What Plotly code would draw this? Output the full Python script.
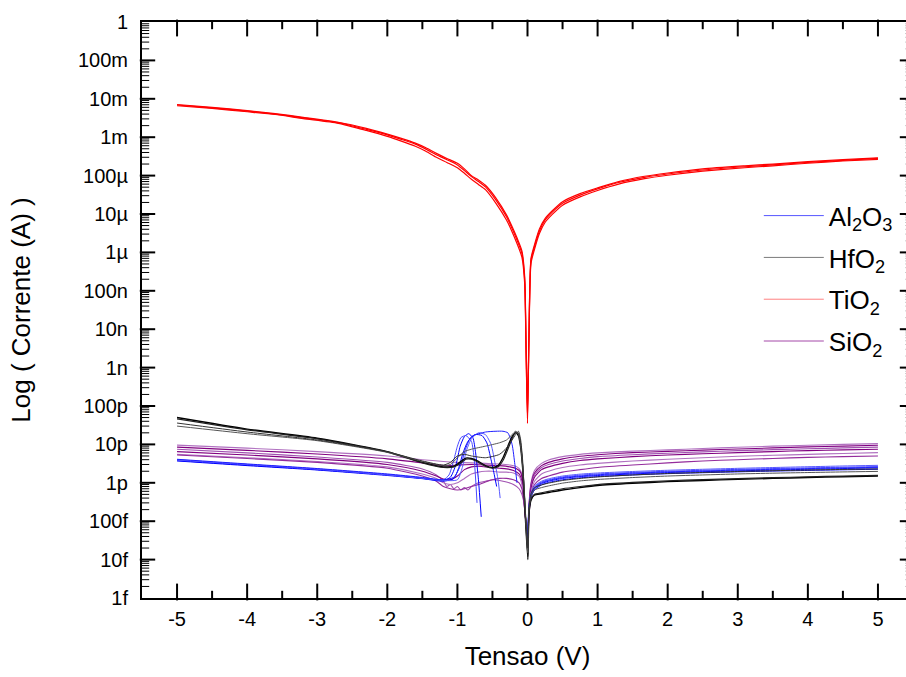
import plotly.graph_objects as go

# ---------------- data ----------------
# TiO2 (red) – three sweeps
V_TIO2 = [-5.0, -4.5, -4.0, -3.6, -3.2, -2.7, -2.3, -2.0, -1.8, -1.6, -1.45, -1.3, -1.15, -1.0, -0.9, -0.8,
          -0.7, -0.6, -0.45, -0.3, -0.23, -0.15, -0.08, -0.04, -0.02, 0.0, 0.02, 0.05, 0.1, 0.17, 0.25,
          0.35, 0.5, 0.75, 1.0, 1.3, 1.67, 2.0, 2.5, 3.1, 3.5, 4.0, 4.5, 5.0]
I_TIO2_1 = [6.9e-3, 5.8e-3, 4.8e-3, 4.0e-3, 3.2e-3, 2.4e-3, 1.6e-3, 1.15e-3, 8.8e-4, 6.6e-4, 4.9e-4, 3.5e-4,
            2.6e-4, 1.9e-4, 1.35e-4, 9.4e-5, 7.0e-5, 5.1e-5, 2.3e-5, 8.5e-6, 4.6e-6, 2.1e-6, 9.5e-7, 1.9e-7,
            3e-9, 3.5e-11, 5e-9, 6.3e-7, 1.4e-6, 3.6e-6, 6.9e-6, 1.1e-5, 1.9e-5, 3.1e-5, 4.5e-5, 6.6e-5,
            9.0e-5, 1.1e-4, 1.4e-4, 1.7e-4, 1.9e-4, 2.2e-4, 2.5e-4, 2.8e-4]
I_TIO2_2 = [6.6e-3, 5.6e-3, 4.6e-3, 3.9e-3, 3.05e-3, 2.3e-3, 1.5e-3, 1.05e-3, 7.9e-4, 5.8e-4, 4.3e-4, 3.0e-4,
            2.2e-4, 1.6e-4, 1.15e-4, 8.0e-5, 5.9e-5, 4.3e-5, 1.9e-5, 7.0e-6, 3.8e-6, 1.7e-6, 7.5e-7, 1.5e-7,
            2e-9, 5e-11, 4e-9, 5.2e-7, 1.2e-6, 3.1e-6, 6.0e-6, 9.6e-6, 1.7e-5, 2.8e-5, 4.1e-5, 6.0e-5,
            8.3e-5, 1.02e-4, 1.3e-4, 1.6e-4, 1.8e-4, 2.1e-4, 2.4e-4, 2.65e-4]
I_TIO2_3 = [7.1e-3, 6.0e-3, 4.9e-3, 4.1e-3, 3.3e-3, 2.45e-3, 1.7e-3, 1.2e-3, 9.3e-4, 7.0e-4, 5.3e-4, 3.8e-4,
            2.8e-4, 2.1e-4, 1.5e-4, 1.0e-4, 7.7e-5, 5.6e-5, 2.6e-5, 9.5e-6, 5.2e-6, 2.4e-6, 1.1e-6, 2.3e-7,
            4e-9, 8e-11, 6e-9, 7.0e-7, 1.6e-6, 4.1e-6, 7.6e-6, 1.2e-5, 2.1e-5, 3.4e-5, 4.8e-5, 7.0e-5,
            9.6e-5, 1.17e-4, 1.5e-4, 1.8e-4, 2.0e-4, 2.3e-4, 2.6e-4, 2.9e-4]

# common positive-bias voltages for the low-current oxides
V_RIGHT = [0.005, 0.02, 0.05, 0.1, 0.2, 0.3, 0.5, 0.75, 1.0, 1.5, 2.0, 2.5, 3.0, 3.5, 4.0, 4.5, 5.0]

# Al2O3 (blue) – negative branches (with breakdown humps) and positive branches
V_AL_1 = [-5, -4, -3, -2, -1.5, -1.2, -1.1, -1.02, -0.96, -0.9, -0.84, -0.78, -0.74, -0.7, -0.66]
I_AL_1 = [3.8e-12, 2.9e-12, 2.2e-12, 1.6e-12, 1.3e-12, 1.15e-12, 1.4e-12, 3e-12, 9e-12, 16e-12, 19e-12,
          15e-12, 6e-12, 1.2e-12, 1.3e-13]
V_AL_2 = [-5, -4, -3, -2, -1.5, -1.2, -1.12, -1.05, -1.0, -0.95, -0.88, -0.8, -0.76, -0.72]
I_AL_2 = [4.0e-12, 3.0e-12, 2.3e-12, 1.65e-12, 1.35e-12, 1.2e-12, 1.6e-12, 4e-12, 9e-12, 15e-12, 17e-12,
          12e-12, 4e-12, 3e-13]
V_AL_3 = [-5, -4, -3, -2, -1.5, -1.2, -1.05, -0.98, -0.92, -0.85, -0.75, -0.65, -0.58, -0.52, -0.47, -0.44]
I_AL_3 = [3.7e-12, 2.8e-12, 2.15e-12, 1.55e-12, 1.28e-12, 1.1e-12, 1.3e-12, 2.5e-12, 6e-12, 12e-12, 18e-12,
          17e-12, 11e-12, 4e-12, 1.5e-12, 8e-13]
V_AL_4 = [-5, -4, -3, -2, -1.5, -1.2, -1.0, -0.93, -0.87, -0.8, -0.7, -0.6, -0.52, -0.46, -0.42, -0.39]
I_AL_4 = [3.9e-12, 3.0e-12, 2.25e-12, 1.6e-12, 1.3e-12, 1.15e-12, 1.2e-12, 2.5e-12, 7e-12, 14e-12, 20e-12,
          18e-12, 10e-12, 3e-12, 1.2e-12, 4e-13]
V_AL_5 = [-5, -4, -3, -2, -1.5, -1.2, -1.05, -0.95, -0.88, -0.8, -0.6, -0.45, -0.35, -0.28, -0.22, -0.18, -0.15]
I_AL_5 = [4.1e-12, 3.1e-12, 2.35e-12, 1.7e-12, 1.38e-12, 1.2e-12, 1.4e-12, 3e-12, 8e-12, 16e-12, 21e-12,
          22e-12, 22e-12, 20e-12, 10e-12, 3e-12, 1.0e-12]
I_AL_R1 = [3e-14, 2e-13, 4.5e-13, 7e-13, 9.5e-13, 1.1e-12, 1.3e-12, 1.45e-12, 1.55e-12, 1.7e-12, 1.85e-12,
           1.95e-12, 2.05e-12, 2.15e-12, 2.25e-12, 2.35e-12, 2.45e-12]
I_AL_R2 = [4e-14, 2.3e-13, 5e-13, 7.8e-13, 1.05e-12, 1.2e-12, 1.42e-12, 1.58e-12, 1.7e-12, 1.86e-12, 2.0e-12,
           2.12e-12, 2.24e-12, 2.35e-12, 2.45e-12, 2.55e-12, 2.65e-12]
I_AL_R3 = [3e-14, 1.8e-13, 4.2e-13, 6.5e-13, 8.8e-13, 1.02e-12, 1.2e-12, 1.35e-12, 1.45e-12, 1.6e-12, 1.73e-12,
           1.83e-12, 1.93e-12, 2.02e-12, 2.1e-12, 2.18e-12, 2.25e-12]
I_AL_R4 = [5e-14, 2.5e-13, 5.4e-13, 8.3e-13, 1.1e-12, 1.27e-12, 1.5e-12, 1.68e-12, 1.8e-12, 1.97e-12, 2.12e-12,
           2.25e-12, 2.38e-12, 2.5e-12, 2.62e-12, 2.74e-12, 2.85e-12]
I_AL_R5 = [3e-14, 2.1e-13, 4.8e-13, 7.3e-13, 1.0e-12, 1.15e-12, 1.36e-12, 1.5e-12, 1.62e-12, 1.78e-12, 1.92e-12,
           2.03e-12, 2.14e-12, 2.24e-12, 2.34e-12, 2.44e-12, 2.53e-12]

# HfO2 (black) – negative and positive branches
V_HF_1 = [-5, -4, -3, -2, -1.5, -1.2, -1.05, -0.95, -0.88, -0.8, -0.7, -0.6, -0.5, -0.42, -0.35, -0.28,
          -0.22, -0.17, -0.13, -0.1, -0.07, -0.05]
I_HF_1 = [5e-11, 2.5e-11, 1.45e-11, 6.5e-12, 3.4e-12, 2.6e-12, 2.7e-12, 3.6e-12, 4.4e-12, 4.3e-12, 3.6e-12,
          2.8e-12, 2.5e-12, 2.8e-12, 4.5e-12, 9e-12, 16e-12, 20e-12, 17e-12, 9e-12, 2.5e-12, 6e-13]
I_HF_2 = [4.6e-11, 2.4e-11, 1.4e-11, 6.3e-12, 3.3e-12, 2.5e-12, 2.6e-12, 3.3e-12, 4.1e-12, 4.1e-12, 3.4e-12,
          2.7e-12, 2.4e-12, 2.6e-12, 3.8e-12, 7.5e-12, 14e-12, 21e-12, 19e-12, 11e-12, 3e-12, 7e-13]
V_HF_3 = [-5, -4, -3, -2, -1.5, -1.2, -1.1, -1.0, -0.9, -0.8, -0.6, -0.4, -0.3, -0.22, -0.17, -0.13, -0.1,
          -0.07, -0.05]
I_HF_3 = [3.0e-11, 1.9e-11, 1.25e-11, 6.2e-12, 3.6e-12, 2.8e-12, 3.0e-12, 4.5e-12, 6.5e-12, 7.5e-12, 9e-12,
          11e-12, 13e-12, 18e-12, 22e-12, 19e-12, 10e-12, 3e-12, 9e-13]
I_HF_4 = [3.6e-11, 2.1e-11, 1.3e-11, 6.4e-12, 3.7e-12, 2.9e-12, 3.4e-12, 5.0e-12, 5.5e-12, 5.0e-12, 4.5e-12,
          5.5e-12, 8e-12, 13e-12, 18e-12, 22e-12, 14e-12, 4e-12, 8e-13]
I_HF_R1 = [1e-14, 1.5e-13, 3.5e-13, 4.8e-13, 5.2e-13, 5.6e-13, 6.5e-13, 7.5e-13, 8.5e-13, 9.7e-13, 1.07e-12,
           1.15e-12, 1.23e-12, 1.3e-12, 1.37e-12, 1.44e-12, 1.5e-12]
I_HF_R2 = [1.2e-14, 1.6e-13, 3.7e-13, 5.0e-13, 5.5e-13, 6.0e-13, 7.0e-13, 8.0e-13, 9.0e-13, 1.02e-12, 1.13e-12,
           1.21e-12, 1.29e-12, 1.36e-12, 1.43e-12, 1.5e-12, 1.56e-12]
I_HF_R3 = [1.5e-14, 2.0e-13, 4.5e-13, 6.5e-13, 7.5e-13, 8.3e-13, 9.8e-13, 1.12e-12, 1.22e-12, 1.37e-12, 1.5e-12,
           1.6e-12, 1.7e-12, 1.78e-12, 1.85e-12, 1.92e-12, 1.98e-12]
I_HF_R4 = [2e-14, 2.2e-13, 5.2e-13, 7.5e-13, 8.8e-13, 9.8e-13, 1.15e-12, 1.3e-12, 1.42e-12, 1.6e-12, 1.75e-12,
           1.86e-12, 1.97e-12, 2.06e-12, 2.15e-12, 2.23e-12, 2.3e-12]

# SiO2 (purple) – negative and positive branches
V_SI_A = [-5, -4, -3, -2, -1.5, -1.2, -1.0, -0.8, -0.6, -0.4, -0.25, -0.15, -0.1, -0.07, -0.05]
I_SI_1 = [9.6e-12, 8.0e-12, 6.5e-12, 5.0e-12, 4.0e-12, 3.6e-12, 3.4e-12, 3.3e-12, 3.2e-12, 3.1e-12, 2.9e-12,
          2.6e-12, 2.1e-12, 1.3e-12, 4e-13]
I_SI_2 = [8.5e-12, 7.0e-12, 5.6e-12, 4.2e-12, 3.3e-12, 2.8e-12, 2.9e-12, 3.0e-12, 2.9e-12, 2.8e-12, 2.6e-12,
          2.3e-12, 1.9e-12, 1.1e-12, 3.5e-13]
V_SI_B = [-5, -4, -3, -2, -1.5, -1.3, -1.2, -1.15, -1.1, -1.05, -1.0, -0.95, -0.9, -0.85, -0.8, -0.7, -0.6,
          -0.5, -0.4, -0.3, -0.2, -0.12, -0.08, -0.05]
I_SI_3 = [7.5e-12, 6.0e-12, 4.7e-12, 3.4e-12, 2.3e-12, 1.6e-12, 1.1e-12, 8e-13, 9e-13, 7e-13, 8e-13, 6.5e-13,
          7.5e-13, 6.5e-13, 8e-13, 1.0e-12, 1.1e-12, 1.2e-12, 1.15e-12, 1.05e-12, 9e-13, 7e-13, 5e-13, 3e-13]
V_SI_C = [-5, -4, -3, -2, -1.5, -1.3, -1.2, -1.1, -1.0, -0.9, -0.8, -0.7, -0.6, -0.5, -0.4, -0.3, -0.2,
          -0.12, -0.08, -0.05]
I_SI_4 = [6.5e-12, 5.3e-12, 4.2e-12, 3.0e-12, 2.0e-12, 1.5e-12, 1.25e-12, 1.2e-12, 1.5e-12, 2.2e-12, 2.6e-12,
          2.7e-12, 2.6e-12, 2.5e-12, 2.4e-12, 2.3e-12, 2.1e-12, 1.7e-12, 1.1e-12, 3.5e-13]
I_SI_5 = [5.5e-12, 4.5e-12, 3.6e-12, 2.6e-12, 1.7e-12, 1.3e-12, 1.0e-12, 9e-13, 1.0e-12, 1.3e-12, 1.7e-12,
          1.9e-12, 2.0e-12, 2.0e-12, 1.9e-12, 1.9e-12, 1.8e-12, 1.5e-12, 9e-13, 3e-13]
I_SI_6 = [5.3e-12, 4.3e-12, 3.4e-12, 2.4e-12, 1.5e-12, 1.1e-12, 8e-13, 7e-13, 6.5e-13, 7e-13, 8e-13, 9e-13,
          1.05e-12, 1.2e-12, 1.3e-12, 1.3e-12, 1.2e-12, 1.0e-12, 7e-13, 3e-13]
I_SI_R1 = [3e-14, 2.5e-13, 1.0e-12, 2.1e-12, 3.2e-12, 3.9e-12, 4.8e-12, 5.5e-12, 6.0e-12, 6.7e-12, 7.2e-12,
           7.8e-12, 8.4e-12, 9.0e-12, 9.5e-12, 10e-12, 10.5e-12]
I_SI_R2 = [3e-14, 2.2e-13, 9e-13, 1.8e-12, 2.8e-12, 3.4e-12, 4.2e-12, 4.9e-12, 5.4e-12, 6.1e-12, 6.6e-12,
           7.1e-12, 7.6e-12, 8.1e-12, 8.6e-12, 9.0e-12, 9.5e-12]
I_SI_R3 = [3e-14, 2e-13, 8e-13, 1.6e-12, 2.5e-12, 3.0e-12, 3.7e-12, 4.3e-12, 4.8e-12, 5.4e-12, 5.9e-12,
           6.4e-12, 6.9e-12, 7.3e-12, 7.7e-12, 8.1e-12, 8.5e-12]
I_SI_R4 = [3e-14, 1.8e-13, 7e-13, 1.4e-12, 2.2e-12, 2.6e-12, 3.2e-12, 3.8e-12, 4.2e-12, 4.8e-12, 5.3e-12,
           5.7e-12, 6.1e-12, 6.5e-12, 6.9e-12, 7.2e-12, 7.5e-12]
I_SI_R5 = [3e-14, 1.5e-13, 5.5e-13, 1.1e-12, 1.7e-12, 2.0e-12, 2.5e-12, 2.9e-12, 3.2e-12, 3.7e-12, 4.1e-12,
           4.5e-12, 4.9e-12, 5.2e-12, 5.5e-12, 5.8e-12, 6.1e-12]
I_SI_R6 = [3e-14, 1.3e-13, 4.5e-13, 9e-13, 1.3e-12, 1.5e-12, 1.9e-12, 2.2e-12, 2.5e-12, 2.9e-12, 3.3e-12,
           3.7e-12, 4.0e-12, 4.3e-12, 4.6e-12, 4.8e-12, 5.0e-12]

# axes
X_RANGE = [-5.5, 5.5]
Y_RANGE_LOG = [-15, 0]
X_TICK_VALS = [-5, -4, -3, -2, -1, 0, 1, 2, 3, 4, 5]
X_TICK_TEXT = ["-5", "-4", "-3", "-2", "-1", "0", "1", "2", "3", "4", "5"]
X_MINOR_VALS = [-4.5, -3.5, -2.5, -1.5, -0.5, 0.5, 1.5, 2.5, 3.5, 4.5]
Y_TICK_VALS = [1e-15, 1e-14, 1e-13, 1e-12, 1e-11, 1e-10, 1e-9, 1e-8, 1e-7, 1e-6, 1e-5, 1e-4, 1e-3, 1e-2, 1e-1, 1]
Y_TICK_TEXT = ["1f", "10f", "100f", "1p", "10p", "100p", "1n", "10n", "100n", "1µ", "10µ", "100µ",
               "1m", "10m", "100m", "1"]
Y_MINOR_DIGITS = [2, 3, 4, 5, 6, 7, 8, 9]
Y_MINOR_VALS = [d * dec for dec in Y_TICK_VALS[:-1] for d in Y_MINOR_DIGITS]

LEGEND_NAMES = ["Al<sub>2</sub>O<sub>3</sub>", "HfO<sub>2</sub>", "TiO<sub>2</sub>", "SiO<sub>2</sub>"]
LEGEND_COLORS = ["#5555ff", "#7a7a7a", "#ff8080", "#a448a8"]

# ---------------- layout geometry ----------------
FIG_W, FIG_H = 918, 677
M_L, M_R, M_T, M_B = 142, 3, 22, 79
PX_PER_V = (FIG_W - M_L - M_R) / (X_RANGE[1] - X_RANGE[0])
PX_PER_DEC = (FIG_H - M_T - M_B) / (Y_RANGE_LOG[1] - Y_RANGE_LOG[0])

# ---------------- figure ----------------
fig = go.Figure()


def add(x, y, color, width=1.0):
    fig.add_trace(go.Scatter(x=x, y=y, mode="lines",
                             line=dict(color=color, width=width, shape="spline", smoothing=0.6),
                             showlegend=False, hoverinfo="skip"))


# SiO2
si_sets = [
    (V_SI_A, I_SI_1, I_SI_R1, "#b070c0"),
    (V_SI_A, I_SI_2, I_SI_R2, "#800080"),
    (V_SI_B, I_SI_3, I_SI_R3, "#a050b0"),
    (V_SI_C, I_SI_4, I_SI_R4, "#800080"),
    (V_SI_C, I_SI_5, I_SI_R5, "#b070c0"),
    (V_SI_C, I_SI_6, I_SI_R6, "#942c9c"),
]
for vl, il, ir, c in si_sets:
    add(vl + V_RIGHT, il + ir, c, 1.1)

# Al2O3
al_sets = [
    (V_AL_1, I_AL_1, I_AL_R1, "#0000ff"),
    (V_AL_2, I_AL_2, I_AL_R2, "#4a4aff"),
    (V_AL_3, I_AL_3, I_AL_R3, "#0000ff"),
    (V_AL_4, I_AL_4, I_AL_R4, "#5858ff"),
    (V_AL_5, I_AL_5, I_AL_R5, "#2020ff"),
]
for vl, il, ir, c in al_sets:
    add(vl + [None] + V_RIGHT, il + [None] + ir, c)

# HfO2
hf_sets = [
    (V_HF_1, I_HF_1, I_HF_R1, "#000000", 1.4),
    (V_HF_1, I_HF_2, I_HF_R2, "#202020", 1.2),
    (V_HF_3, I_HF_3, I_HF_R3, "#555555", 1.0),
    (V_HF_3, I_HF_4, I_HF_R4, "#333333", 1.0),
]
for vl, il, ir, c, w in hf_sets:
    add(vl + V_RIGHT, il + ir, c, w)

# TiO2
for it in (I_TIO2_1, I_TIO2_2, I_TIO2_3):
    add(V_TIO2, it, "#ff0000", 1.2)


# ---- inward tick marks on all four sides, drawn as line-shaped markers from the tick arrays ----
def x_tick_markers(vals, px_len, width):
    half = (px_len / 2) / PX_PER_DEC
    lo, hi = Y_RANGE_LOG
    xs = list(vals) + list(vals)
    ys = [10 ** (lo + half)] * len(vals) + [10 ** (hi - half)] * len(vals)
    fig.add_trace(go.Scatter(x=xs, y=ys, mode="markers", cliponaxis=False, showlegend=False,
                             hoverinfo="skip",
                             marker=dict(symbol="line-ns", size=px_len, color="black",
                                         line=dict(color="black", width=width))))


def y_tick_markers(vals, px_len, width):
    half = (px_len / 2) / PX_PER_V
    lo, hi = X_RANGE
    xs = [lo + half] * len(vals) + [hi - half] * len(vals)
    ys = list(vals) + list(vals)
    fig.add_trace(go.Scatter(x=xs, y=ys, mode="markers", cliponaxis=False, showlegend=False,
                             hoverinfo="skip",
                             marker=dict(symbol="line-ew", size=px_len, color="black",
                                         line=dict(color="black", width=width))))


x_tick_markers(X_TICK_VALS, 12, 2)
x_tick_markers(X_MINOR_VALS, 6, 2)
y_tick_markers(Y_TICK_VALS[1:-1], 11, 2)
y_tick_markers(Y_MINOR_VALS, 6, 1)

# legend entries
for k, (nm, col) in enumerate(zip(LEGEND_NAMES, LEGEND_COLORS)):
    fig.add_trace(go.Scatter(x=[None], y=[None], mode="lines", name=nm,
                             line=dict(color=col, width=1), legendrank=k + 1,
                             legendgroup=str(k)))

FONT = "Arial, Liberation Sans, sans-serif"

fig.update_layout(
    width=FIG_W, height=FIG_H,
    margin=dict(l=M_L, r=M_R, t=M_T, b=M_B),
    paper_bgcolor="white", plot_bgcolor="white",
    font=dict(family=FONT, color="black"),
    showlegend=True,
    legend=dict(x=0.80, y=0.7045, xanchor="left", yanchor="top",
                bgcolor="rgba(0,0,0,0)", borderwidth=0,
                font=dict(family=FONT, size=26, color="black"),
                itemwidth=60, tracegroupgap=5),
    xaxis=dict(range=X_RANGE, showline=True, linewidth=2, linecolor="black", mirror=True,
               showgrid=False, zeroline=False,
               tickmode="array", tickvals=X_TICK_VALS, ticktext=X_TICK_TEXT,
               ticks="", tickfont=dict(size=20), ticklabelstandoff=2,
               title=dict(text="Tensao (V)", font=dict(size=26), standoff=18)),
    yaxis=dict(type="log", range=Y_RANGE_LOG, showline=True, linewidth=2, linecolor="black",
               mirror=True, showgrid=False, zeroline=False,
               tickmode="array", tickvals=Y_TICK_VALS, ticktext=Y_TICK_TEXT,
               ticks="", tickfont=dict(size=20), ticklabelstandoff=8,
               title=dict(text="Log ( Corrente (A) )", font=dict(size=26), standoff=40)),
)

fig.write_html("out.html", config={"displayModeBar": False},
               post_script="document.body.style.margin='0';document.body.style.overflow='hidden';")
